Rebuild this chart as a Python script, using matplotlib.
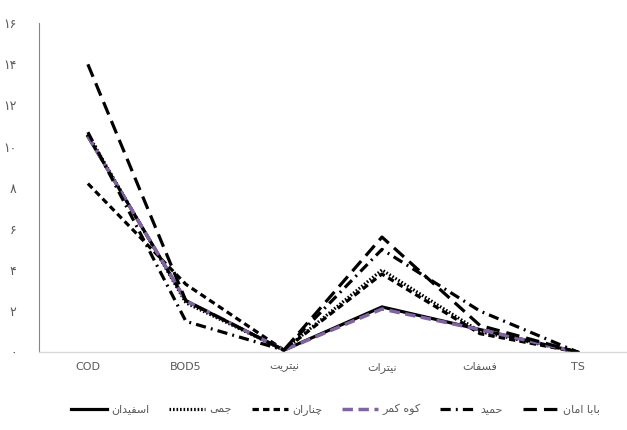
import matplotlib
matplotlib.use("Agg")
import matplotlib.pyplot as plt

# Values
categories = ['COD', 'BOD5', 'نیتریت', 'نیترات', 'فسفات', 'TS']
baba_aman = [14.0, 2.5, 0.1, 5.6, 1.3, 0.0]
hamid = [10.7, 1.5, 0.1, 5.0, 2.0, 0.0]
kuh_kamar = [10.5, 2.5, 0.1, 2.1, 1.1, 0.0]
chenaran = [8.2, 3.3, 0.1, 3.8, 0.9, 0.0]
jami = [10.6, 2.4, 0.1, 4.0, 1.0, 0.0]
esfidan = [10.5, 2.5, 0.1, 2.2, 1.1, 0.0]
y_ticks = [0, 2, 4, 6, 8, 10, 12, 14, 16]

# Simple Persian shaper (matplotlib does no Arabic shaping / bidi)
FORMS = {
    'ا': ('\uFE8D', '\uFE8E'), 'د': ('\uFEA9', '\uFEAA'),
    'ر': ('\uFEAD', '\uFEAE'), 'و': ('\uFEED', '\uFEEE'),
    'ب': ('\uFE8F', '\uFE90', '\uFE91', '\uFE92'),
    'ت': ('\uFE95', '\uFE96', '\uFE97', '\uFE98'),
    'ج': ('\uFE9D', '\uFE9E', '\uFE9F', '\uFEA0'),
    'ح': ('\uFEA1', '\uFEA2', '\uFEA3', '\uFEA4'),
    'س': ('\uFEB1', '\uFEB2', '\uFEB3', '\uFEB4'),
    'ف': ('\uFED1', '\uFED2', '\uFED3', '\uFED4'),
    'م': ('\uFEE1', '\uFEE2', '\uFEE3', '\uFEE4'),
    'ن': ('\uFEE5', '\uFEE6', '\uFEE7', '\uFEE8'),
    'ه': ('\uFEE9', '\uFEEA', '\uFEEB', '\uFEEC'),
    'چ': ('\uFB7A', '\uFB7B', '\uFB7C', '\uFB7D'),
    'ک': ('\uFB8E', '\uFB8F', '\uFB90', '\uFB91'),
    'ی': ('\uFBFC', '\uFBFD', '\uFBFE', '\uFBFF'),
}


def fa(text):
    out = []
    for i, ch in enumerate(text):
        if ch not in FORMS:
            out.append(ch)
            continue
        prev = text[i - 1] if i > 0 else ''
        nxt = text[i + 1] if i + 1 < len(text) else ''
        join_prev = prev in FORMS and len(FORMS[prev]) == 4
        join_next = len(FORMS[ch]) == 4 and nxt in FORMS
        f = FORMS[ch]
        if join_prev and join_next:
            out.append(f[3])
        elif join_prev:
            out.append(f[1])
        elif join_next:
            out.append(f[2])
        else:
            out.append(f[0])
    s = ''.join(out)
    if any(c in FORMS for c in text):
        s = s[::-1]
    return s


def fa_digits(n):
    return str(n).translate(str.maketrans('0123456789', '۰۱۲۳۴۵۶۷۸۹'))


plt.rcParams['font.family'] = ['DejaVu Sans']

fig = plt.figure(figsize=(6.27, 4.30), dpi=100)
ax = fig.add_axes([0.062, 0.181, 0.938, 0.765])

x = list(range(len(categories)))
lw = 2.3
ax.plot(x, esfidan, color='black', lw=lw, solid_joinstyle='miter', label=fa('اسفیدان'))
ax.plot(x, jami, color='black', lw=lw, linestyle=(0, (0.5, 0.6)),
        dash_capstyle='butt', label=fa('جمی'))
ax.plot(x, chenaran, color='black', lw=lw, linestyle=(0, (2.0, 1.3)), label=fa('چناران'))
ax.plot(x, kuh_kamar, color='#8064a2', lw=lw + 0.2, linestyle=(0, (3.0, 1.6)),
        label=fa('کوه کمر'))
ax.plot(x, hamid, color='black', lw=lw, linestyle=(0, (3.2, 1.6, 0.6, 1.6)), label=fa('حمید'))
ax.plot(x, baba_aman, color='black', lw=lw, linestyle=(0, (4.2, 2.2)), label=fa('بابا امان'))

ax.set_xlim(-0.5, len(categories) - 0.5)
ax.set_ylim(0, 16)
ax.set_xticks(x)
ax.set_xticklabels([fa(c) for c in categories])
ax.set_yticks(y_ticks)
ax.set_yticklabels([fa_digits(v) for v in y_ticks])
ax.tick_params(axis='both', length=0, labelcolor='#595959')
ax.tick_params(axis='x', pad=7, labelsize=8)
ax.tick_params(axis='y', pad=16, labelsize=9)

for side in ('top', 'right'):
    ax.spines[side].set_visible(False)
ax.spines['left'].set_color('#868686')
ax.spines['left'].set_linewidth(0.8)
ax.spines['bottom'].set_color('#d9d9d9')
ax.spines['bottom'].set_linewidth(1.0)

fig.legend(loc='center', bbox_to_anchor=(0.535, 0.047), ncol=6, frameon=False,
           fontsize=8, handlelength=3.2, columnspacing=1.8, handletextpad=0.4,
           labelcolor='#595959')

fig.savefig('out.png', dpi=100)
